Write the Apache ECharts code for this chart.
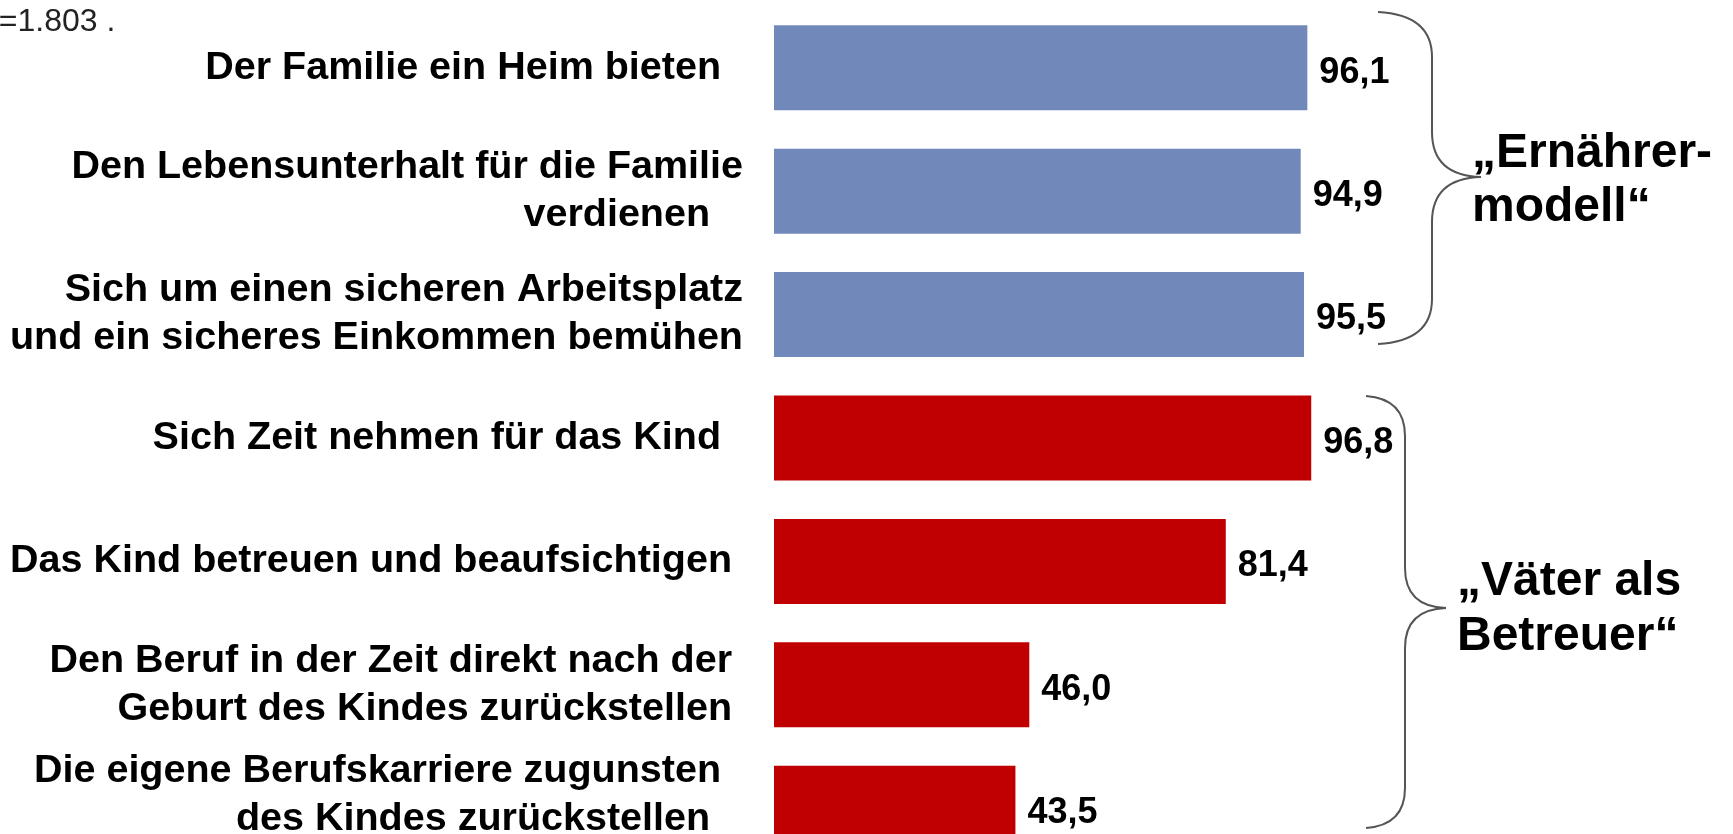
<!DOCTYPE html>
<html>
<head>
<meta charset="utf-8">
<script src="https://cdn.jsdelivr.net/npm/echarts@6/dist/echarts.min.js"></script>
<style>
  html, body { margin: 0; padding: 0; background: #fff; }
  #chart { width: 1733px; height: 834px; }
</style>
</head>
<body>
<div id="chart"></div>
<script>
// trailing spaces keep the ragged right edge of the original labels
const categories = [
  'Der Familie ein Heim bieten  ',
  'Den Lebensunterhalt für die Familie\nverdienen   ',
  'Sich um einen sicheren Arbeitsplatz\nund ein sicheres Einkommen bemühen',
  'Sich Zeit nehmen für das Kind  ',
  'Das Kind betreuen und beaufsichtigen ',
  'Den Beruf in der Zeit direkt nach der \nGeburt des Kindes zurückstellen ',
  'Die eigene Berufskarriere zugunsten  \ndes Kindes zurückstellen   '
]
const values = [96.1, 94.9, 95.5, 96.8, 81.4, 46.0, 43.5]
const groupOf = [0, 0, 0, 1, 1, 1, 1]
const groupNames = ['„Ernährer-\nmodell“', '„Väter als\nBetreuer“']
const sampleNote = 'n=1.803 .'

const groupColors = ['#7189BA', '#C00000']
const font = '"Liberation Sans", Arial, sans-serif'
const braceColor = '#555'

const chart = echarts.init(document.getElementById('chart'))

// curly brace "}" made of bezier curves and lines
function brace(x0, xv, xt, yTop, yTip, yBot, r) {
  const st = { stroke: braceColor, lineWidth: 2, fill: null }
  const bz = (x1, y1, cx1, cy1, cx2, cy2, x2, y2) => ({
    type: 'bezierCurve', silent: true, style: st,
    shape: { x1, y1, cpx1: cx1, cpy1: cy1, cpx2: cx2, cpy2: cy2, x2, y2 }
  })
  const ln = (y1, y2) => ({ type: 'line', silent: true, style: st, shape: { x1: xv, y1, x2: xv, y2 } })
  return [
    bz(x0, yTop, x0 + (xv - x0) * 0.7, yTop + 2, xv, yTop + r * 0.4, xv, yTop + r),
    ln(yTop + r, yTip - r),
    bz(xv, yTip - r, xv, yTip - r * 0.4, xv + (xt - xv) * 0.3, yTip - 1, xt, yTip),
    bz(xt, yTip, xv + (xt - xv) * 0.3, yTip + 1, xv, yTip + r * 0.4, xv, yTip + r),
    ln(yTip + r, yBot - r),
    bz(xv, yBot - r, xv, yBot - r * 0.4, x0 + (xv - x0) * 0.7, yBot - 2, x0, yBot)
  ]
}

const option = {
  animation: false,
  // grid runs past the bottom edge, the last bar is cut like in the original
  grid: { left: 774, width: 555, top: 6, height: 864, outerBoundsMode: 'none', containLabel: false },
  xAxis: { type: 'value', min: 0, max: 100, show: false },
  yAxis: {
    type: 'category', inverse: true, data: categories,
    axisLine: { show: false }, axisTick: { show: false },
    axisLabel: {
      margin: 31, color: '#000', fontSize: 39.5, fontWeight: 'bold',
      fontFamily: font, lineHeight: 48, align: 'right',
      // last label sits a bit higher than its cut-off bar: add an empty spacer line
      formatter: (v, i) => i === categories.length - 1 ? v + '\n{sp| }' : v,
      rich: { sp: { fontSize: 10, lineHeight: 26 } }
    }
  },
  series: [{
    type: 'bar',
    barWidth: 85,
    data: values.map((v, i) => ({ value: v, itemStyle: { color: groupColors[groupOf[i]] } })),
    label: {
      show: true, position: 'right', distance: 12, offset: [0, 5],
      formatter: p => p.value.toFixed(1).replace('.', ','),
      color: '#000', fontSize: 36, fontWeight: 'bold', fontFamily: font
    }
  }],
  graphic: [
    { type: 'text', left: -19, top: 6, silent: true,
      style: { text: sampleNote, fill: '#222', fontSize: 32, fontFamily: font } },
    ...brace(1378, 1432, 1481, 12, 177, 344, 45),
    ...brace(1366, 1405, 1446, 396, 608, 828, 40),
    { type: 'text', x: 1472, y: 181, silent: true,
      style: { text: groupNames[0], fill: '#000', fontSize: 48, fontWeight: 'bold',
        fontFamily: font, verticalAlign: 'middle', lineHeight: 54 } },
    { type: 'text', x: 1457, y: 609, silent: true,
      style: { text: groupNames[1], fill: '#000', fontSize: 48, fontWeight: 'bold',
        fontFamily: font, verticalAlign: 'middle', lineHeight: 55 } }
  ]
}
chart.setOption(option)
</script>
</body>
</html>
